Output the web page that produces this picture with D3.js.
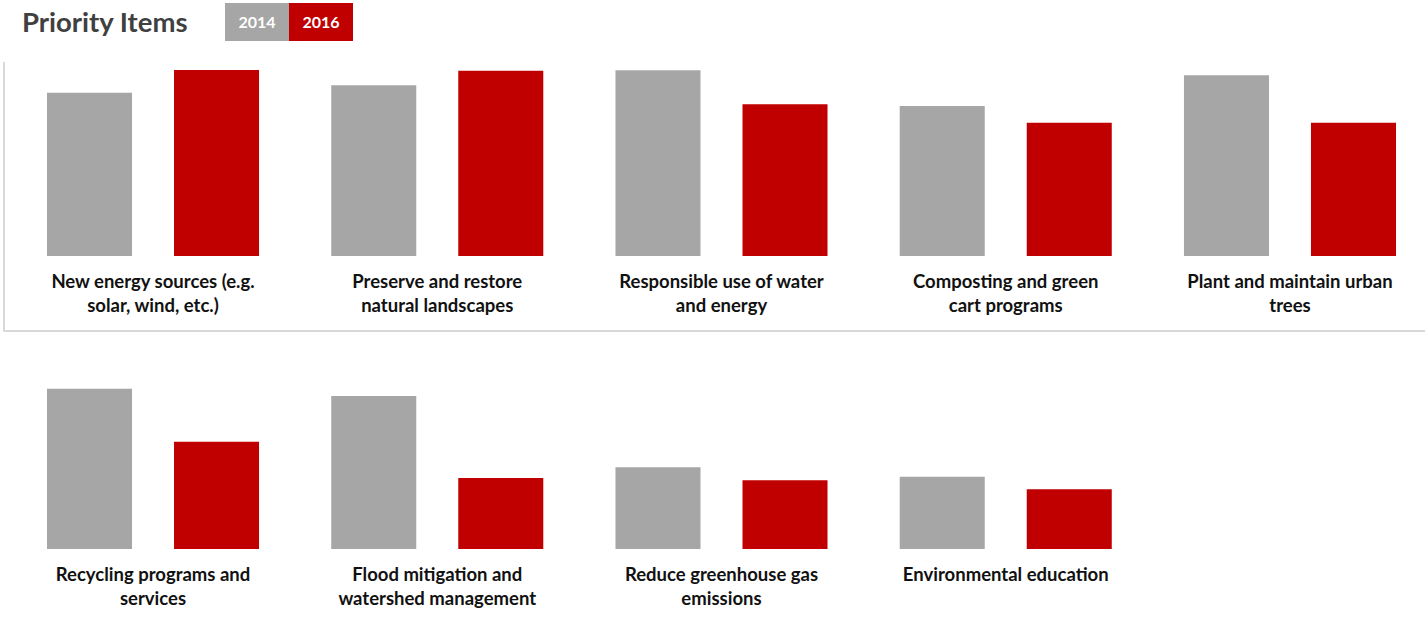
<!DOCTYPE html>
<html>
<head>
<meta charset="utf-8">
<script src="https://cdn.jsdelivr.net/npm/d3@7"></script>
<style>
    body { margin: 0; background: #fff; }
    svg { display: block; }
</style>
</head>
<body>
<div id="chart"></div>
<script>
// chart data
const years = ["2014", "2016"];
const topCategories = [
    "New energy sources (e.g.|solar, wind, etc.)",
    "Preserve and restore|natural landscapes",
    "Responsible use of water|and energy",
    "Composting and green|cart programs",
    "Plant and maintain urban|trees"
];
const top2014 = [65.3, 68.3, 74.3, 60.0, 72.3];
const top2016 = [74.4, 74.1, 60.7, 53.3, 53.3];

const bottomCategories = [
    "Recycling programs and|services",
    "Flood mitigation and|watershed management",
    "Reduce greenhouse gas|emissions",
    "Environmental education"
];
const bottom2014 = [64.1, 61.2, 32.7, 28.9];
const bottom2016 = [42.9, 28.4, 27.5, 23.9];

const width = 1427;
const height = 621;
const colors = ["#a6a6a6", "#c00000"];
const font = "Lato, 'Open Sans', sans-serif";

const svg = d3.select("#chart")
    .append("svg")
    .attr("width", width)
    .attr("height", height);

// title
svg.append("text")
    .attr("x", 22)
    .attr("y", 32)
    .style("font-family", font)
    .style("font-size", "27.5px")
    .style("font-weight", "bold")
    .style("fill", "#404040")
    .text("Priority Items");

// legend boxes
const legend = svg.append("g").attr("transform", "translate(225,3)");
years.forEach((year, i) => {
    legend.append("rect")
        .attr("x", i * 64)
        .attr("width", 64)
        .attr("height", 38)
        .attr("fill", colors[i]);
    legend.append("text")
        .attr("x", i * 64 + 32)
        .attr("y", 25)
        .attr("text-anchor", "middle")
        .style("font-family", font)
        .style("font-size", "16px")
        .style("font-weight", "bold")
        .style("fill", "#fff")
        .text(year);
});

// top panel border (left and bottom)
svg.append("path")
    .attr("d", "M4,62 V331 H1425")
    .attr("fill", "none")
    .attr("stroke", "#d9d9d9")
    .attr("stroke-width", 2);

const x = d3.scaleBand()
    .domain(d3.range(5))
    .range([47, 47 + 5 * 284.25 - 72.25])
    .paddingInner(0.254);

const xInner = d3.scaleBand()
    .domain(years)
    .range([0, x.bandwidth()])
    .paddingInner(0.3307);

const h = d3.scaleLinear()
    .domain([0, 100])
    .range([0, 250]);

const drawRow = (categories, v2014, v2016, baseline) => {
    const data = categories.map((c, i) => ({ label: c, values: [v2014[i], v2016[i]] }));

    const groups = svg.append("g")
        .selectAll("g")
        .data(data)
        .enter()
        .append("g")
        .attr("transform", (d, i) => `translate(${x(i)},0)`);

    groups.selectAll("rect")
        .data(d => d.values.map((v, j) => ({ year: years[j], value: v })))
        .enter()
        .append("rect")
        .attr("x", d => xInner(d.year))
        .attr("y", d => baseline - h(d.value))
        .attr("width", xInner.bandwidth())
        .attr("height", d => h(d.value))
        .attr("fill", (d, j) => colors[j]);

    groups.append("text")
        .attr("text-anchor", "middle")
        .style("font-family", font)
        .style("font-size", "18.5px")
        .style("font-weight", "bold")
        .style("fill", "#111")
        .selectAll("tspan")
        .data(d => d.label.split("|"))
        .enter()
        .append("tspan")
        .attr("x", x.bandwidth() / 2)
        .attr("y", (d, k) => baseline + 32 + k * 24)
        .text(d => d);
};

drawRow(topCategories, top2014, top2016, 256);
drawRow(bottomCategories, bottom2014, bottom2016, 549);
</script>
</body>
</html>
